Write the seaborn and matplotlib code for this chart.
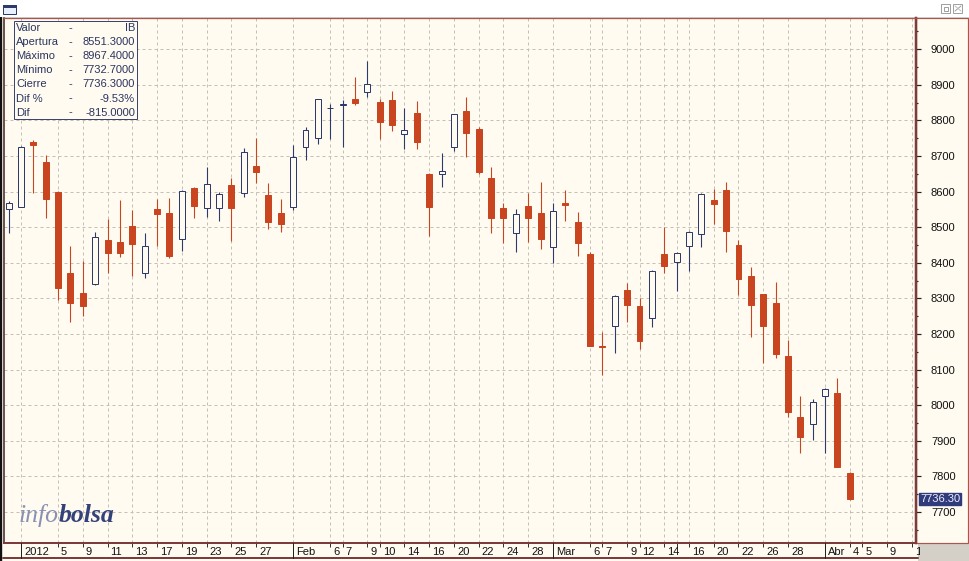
import numpy as np
import pandas as pd
import matplotlib
matplotlib.use("Agg")
import matplotlib.pyplot as plt
import seaborn as sns
from matplotlib.patches import Rectangle
from matplotlib.lines import Line2D
from matplotlib.transforms import (blended_transform_factory, ScaledTranslation,
                                   Bbox, TransformedBbox)

# ---------------- data ----------------
day_index = list(range(69))
open_ = [8551, 8558, 8740, 8682, 8600, 8370, 8314, 8340, 8464, 8458,
         8503, 8370, 8550, 8539, 8466, 8609, 8553, 8553, 8618, 8595,
         8672, 8590, 8539, 8558, 8724, 8750, 8834, 8844, 8859, 8879,
         8852, 8857, 8761, 8822, 8649, 8649, 8726, 8826, 8776, 8637,
         8553, 8483, 8560, 8539, 8444, 8569, 8514, 8425, 8167, 8222,
         8324, 8279, 8244, 8425, 8401, 8448, 8480, 8576, 8604, 8450,
         8363, 8312, 8286, 8138, 7966, 7946, 8026, 8035, 7811]
high = [8574, 8727, 8745, 8703, 8601, 8447, 8405, 8486, 8522, 8576,
        8548, 8483, 8578, 8581, 8604, 8614, 8670, 8600, 8637, 8722,
        8750, 8625, 8579, 8731, 8781, 8861, 8846, 8857, 8923, 8967,
        8859, 8883, 8834, 8855, 8651, 8708, 8819, 8865, 8781, 8670,
        8567, 8550, 8597, 8628, 8567, 8604, 8542, 8431, 8206, 8310,
        8342, 8300, 8380, 8500, 8431, 8488, 8595, 8607, 8626, 8464,
        8389, 8313, 8345, 8183, 8026, 8017, 8047, 8077, 7812]
low = [8485, 8556, 8597, 8527, 8295, 8235, 8251, 8338, 8372, 8417,
       8364, 8356, 8447, 8413, 8434, 8527, 8528, 8518, 8462, 8584,
       8625, 8495, 8487, 8548, 8689, 8733, 8747, 8724, 8843, 8867,
       8747, 8771, 8720, 8719, 8475, 8612, 8715, 8696, 8649, 8483,
       8456, 8430, 8459, 8438, 8399, 8518, 8420, 8165, 8085, 8147,
       8235, 8157, 8221, 8372, 8322, 8378, 8443, 8508, 8431, 8310,
       8192, 8118, 8132, 7966, 7867, 7902, 7867, 7826, 7733]
close = [8567, 8724, 8731, 8579, 8330, 8288, 8279, 8473, 8427, 8427,
         8452, 8448, 8536, 8420, 8602, 8560, 8620, 8592, 8555, 8712,
         8656, 8515, 8509, 8696, 8773, 8859, 8835, 8847, 8848, 8901,
         8796, 8788, 8773, 8740, 8558, 8657, 8817, 8765, 8656, 8527,
         8527, 8536, 8527, 8466, 8546, 8563, 8455, 8167, 8163, 8308,
         8281, 8181, 8377, 8392, 8427, 8486, 8593, 8566, 8490, 8354,
         8281, 8223, 8143, 7982, 7912, 8010, 8045, 7826, 7736.3]

x_tick_pos = [1, 4, 6, 8, 10, 12, 14, 16, 18, 20, 23, 26, 27, 29, 30, 32, 34,
              36, 38, 40, 42, 44, 47, 48, 50, 51, 53, 54, 55, 57, 59, 61, 63,
              66, 68, 69, 71, 73]
x_tick_labels = ["2012", "5", "9", "11", "13", "17", "19", "23", "25", "27",
                 "Feb", "6", "7", "9", "10", "14", "16", "20", "22", "24", "28",
                 "Mar", "6", "7", "9", "12", "14", "", "16", "20", "22", "26",
                 "28", "Abr", "4", "5", "9", "11"]
month_ticks = [1, 23, 44, 66]
y_ticks = list(range(7700, 9001, 100))
y_minor = list(range(7650, 9051, 100))
info_labels = ["Valor", "Apertura", "Máximo", "Mínimo", "Cierre", "Dif %", "Dif"]
info_values = ["IB", "8551.3000", "8967.4000", "7732.7000", "7736.3000",
               "-9.53%", "-815.0000"]
last_value = 7736.30
last_label = "7736.30"

# ---------------- style ----------------
sns.set_theme(style="white")
plt.rcParams["font.family"] = ["Liberation Sans", "DejaVu Sans"]

W, H = 970, 561
PX = 72 / 100
CREAM = "#FFFBF0"
RED = "#C9451F"
NAVY = "#2E3A6E"
GRID = "#C4C0B6"
BORDER = "#A8574F"
DARKRED = "#7D3B3B"

fig = plt.figure(figsize=(W / 100, H / 100), dpi=100, facecolor="#D4D0C8")


def rect(x0, y0, x1, y1, **kw):
    r = Rectangle((x0 / W, 1 - y1 / H), (x1 - x0) / W, (y1 - y0) / H,
                  transform=fig.transFigure, **kw)
    fig.add_artist(r)
    return r


def fline(xs, ys, **kw):
    fig.add_artist(Line2D([x / W for x in xs], [1 - y / H for y in ys],
                          transform=fig.transFigure, **kw))


# window chrome / backgrounds
rect(0, 0, 970, 17, facecolor="#FFFFFF", edgecolor="none", zorder=-5)
fline([0, 970], [16.5, 16.5], color="#D8D8D8", lw=1 * PX, zorder=-4)
rect(3, 17, 918, 561, facecolor=CREAM, edgecolor="none", zorder=-5)
rect(916, 18, 968, 543, facecolor=CREAM, edgecolor=BORDER, lw=1.2 * PX, zorder=-3)
rect(0, 17, 2.5, 561, facecolor="#111111", edgecolor="none", zorder=-2)
fline([3, 918], [558, 558], color=DARKRED, lw=2 * PX, zorder=-2)
# title-bar icon and buttons
rect(3.5, 4.5, 16.5, 13.5, facecolor="#E8F0FF", edgecolor=NAVY, lw=1 * PX, zorder=5)
rect(3.5, 4.5, 16.5, 6.5, facecolor=NAVY, edgecolor=NAVY, lw=1 * PX, zorder=5)
rect(941.5, 4.5, 950.5, 12.5, facecolor="none", edgecolor="#A0A0A0", lw=1 * PX, zorder=5)
rect(944.5, 6.5, 948.5, 10.5, facecolor="none", edgecolor="#A0A0A0", lw=1 * PX, zorder=5)
rect(953.5, 4.5, 962.5, 12.5, facecolor="none", edgecolor="#A0A0A0", lw=1 * PX, zorder=5)
fline([955, 961], [11, 6], color="#A0A0A0", lw=1 * PX, zorder=5)
fline([955, 961], [6, 11], color="#C0C0C0", lw=1 * PX, zorder=5)

# ---------------- main axes ----------------
ax = fig.add_axes([4 / W, 1 - 543 / H, 912 / W, 525 / H])
ax.set_facecolor(CREAM)
ax.set_xlim(-0.372, 73.35)
ax.set_ylim(7613, 9087.6)

for yy in y_ticks:
    ax.axhline(yy, color=GRID, lw=1 * PX, ls=(0, (3, 3)), zorder=0.5)
for xt in x_tick_pos:
    ax.axvline(xt, color=GRID, lw=1 * PX, ls=(0, (3, 3)), zorder=0.5)

df = pd.DataFrame({"day": day_index, "open": open_, "high": high,
                   "low": low, "close": close})
up = (df["close"] >= df["open"]).to_numpy()
edge_cols = np.where(up, NAVY, RED)
face_cols = np.where(up, CREAM, RED)
ax.vlines(df["day"], df["low"], df["high"], colors=edge_cols, lw=1.1 * PX, zorder=2)
ax.bar(df["day"], (df["close"] - df["open"]).abs(),
       bottom=df[["open", "close"]].min(axis=1), width=0.48,
       color=face_cols, edgecolor=edge_cols, linewidth=1 * PX, zorder=3)

# spines
for side, col, lw in [("top", BORDER, 1.3), ("left", "#3A2020", 1.5),
                      ("bottom", DARKRED, 2), ("right", DARKRED, 2.5)]:
    ax.spines[side].set_visible(True)
    ax.spines[side].set_color(col)
    ax.spines[side].set_linewidth(lw * PX)

# y axis on the right
ax.yaxis.tick_right()
ax.set_yticks(y_ticks)
ax.set_yticks(y_minor, minor=True)
ax.set_yticklabels([str(v) for v in y_ticks])
ax.tick_params(axis="y", which="major", right=True, left=False, direction="out",
               length=5 * PX, width=1.2 * PX, color="#222222", labelsize=8,
               labelcolor="#111111", pad=10 * PX)
ax.tick_params(axis="y", which="minor", right=True, left=False, direction="out",
               length=2.5 * PX, width=1.2 * PX, color="#222222")

# x axis: ticks with left-aligned labels
ax.set_xticks(x_tick_pos)
ax.set_xticklabels([""] * len(x_tick_pos))
ax.tick_params(axis="x", which="major", bottom=True, direction="out",
               length=4 * PX, width=1 * PX, color="#333333")
ax.set_xlabel("")
ax.set_ylabel("")

xlab_tr = blended_transform_factory(ax.transData, ax.transAxes) + \
    ScaledTranslation(3.0 / 100, -4 / 100, fig.dpi_scale_trans)
clipbox = TransformedBbox(Bbox.from_extents(3 / W, 0, 920 / W, 1), fig.transFigure)
for pos, lab in zip(x_tick_pos, x_tick_labels):
    t = fig.text(pos, 0, lab, transform=xlab_tr, ha="left", va="top",
                 fontsize=8, color="#111111")
    t.set_clip_box(clipbox)
    t.set_clip_on(True)

sep_tr = blended_transform_factory(ax.transData, fig.transFigure)
for m in month_ticks:
    fig.add_artist(Line2D([m, m], [1 - 543 / H, 1 - 558 / H], transform=sep_tr,
                          color="#222222", lw=1 * PX, zorder=4))

# current value tag
ax.text(1.0, last_value, last_label,
        transform=blended_transform_factory(ax.transAxes, ax.transData) +
        ScaledTranslation(4 / 100, 0, fig.dpi_scale_trans),
        ha="left", va="center", fontsize=8, color="#F0F0FF",
        bbox=dict(boxstyle="square,pad=0.12", fc="#2F3B7A", ec="#2F3B7A"))

# info box
rect(13.5, 20.5, 137.5, 118.5, facecolor=CREAM, edgecolor="#3A4570", lw=1 * PX, zorder=6)
for i, (lab, val) in enumerate(zip(info_labels, info_values)):
    yc = 28 + i * 14.1
    fig.text(16 / W, 1 - yc / H, lab, ha="left", va="center", fontsize=8,
             color="#2A3560", zorder=7)
    fig.text(70 / W, 1 - yc / H, "-", ha="center", va="center", fontsize=8,
             color="#2A3560", zorder=7)
    fig.text(135 / W, 1 - yc / H, val, ha="right", va="center", fontsize=8,
             color="#2A3560", zorder=7)

# logo
t1 = fig.text(19 / W, 1 - 522 / H, "info", family="Liberation Serif",
              style="italic", fontsize=18.5, color="#8A91B4", va="baseline", zorder=7)
ax.annotate("bolsa", xy=(1, 0), xycoords=t1, xytext=(0, 0),
            textcoords="offset points", ha="left", va="bottom",
            family="Liberation Serif", style="italic", fontweight="bold",
            fontsize=18.5, color="#34427A", annotation_clip=False, zorder=7)

fig.savefig("out.png", dpi=100, facecolor=fig.get_facecolor())
